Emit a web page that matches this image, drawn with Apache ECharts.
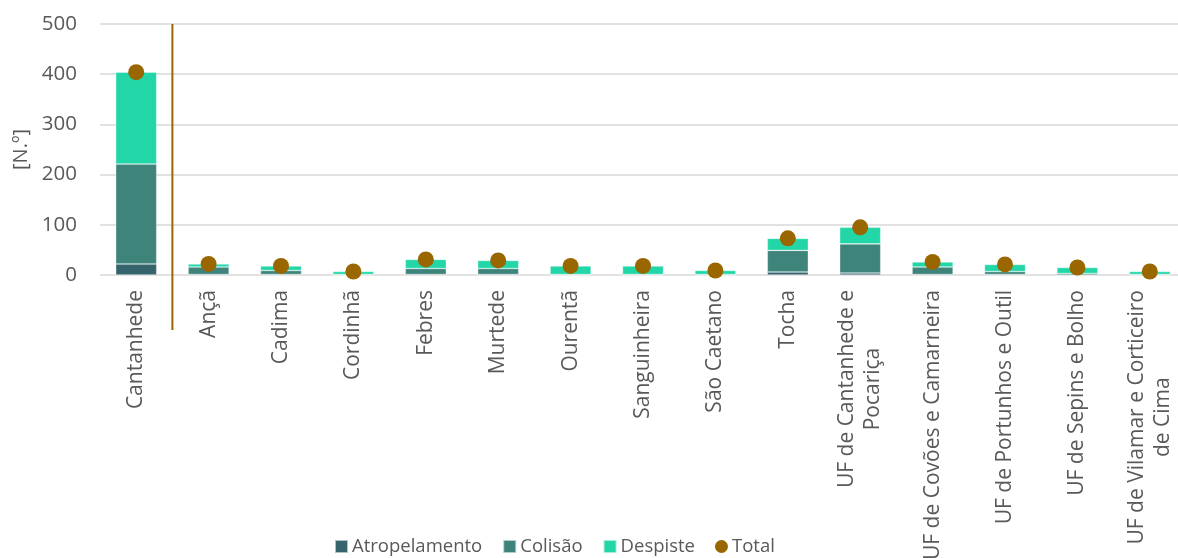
<!DOCTYPE html>
<html>
<head>
<meta charset="utf-8">
<script src="https://cdn.jsdelivr.net/npm/echarts@6/dist/echarts.min.js"></script>
<style>
html,body{margin:0;padding:0;background:#fff;overflow:hidden;}
#c{width:1178px;height:558px;}
</style>
</head>
<body>
<div id="c"></div>
<script>
const categories = ['Cantanhede','Ançã','Cadima','Cordinhã','Febres','Murtede','Ourentã','Sanguinheira','São Caetano','Tocha','UF de Cantanhede e\nPocariça','UF de Covões e Camarneira','UF de Portunhos e Outil','UF de Sepins e Bolho','UF de Vilamar e Corticeiro\nde Cima'];
const atropelamento = [22, 1, 1, 0, 1, 1, 0, 0, 0, 6, 4, 1, 1, 0, 0];
const colisao       = [199, 15, 8, 1, 12, 12, 1, 1, 1, 43, 58, 15, 6, 3, 1];
const despiste      = [183, 6, 9, 6, 18, 16, 17, 17, 8, 24, 33, 10, 14, 12, 6];
const total         = [404, 22, 18, 7, 31, 29, 18, 18, 9, 73, 95, 26, 21, 15, 7];
const yTicks = [0, 100, 200, 300, 400, 500];

const FONT = '"Open Sans", "DejaVu Sans", sans-serif';
const TXT = '#595959';
const chart = echarts.init(document.getElementById('c'));

const barCommon = {
  type: 'bar', stack: 'a', barWidth: 41,
  itemStyle: { borderColor: 'rgba(255,255,255,0.6)', borderWidth: 0.6 }
};

chart.setOption({
  animation: false,
  textStyle: { fontFamily: FONT },
  grid: { left: 100, width: 1086, top: 24, height: 251, containLabel: false, outerBoundsMode: 'none' },
  legend: {
    left: 329, top: 532,
    itemWidth: 13, itemHeight: 13, itemGap: 20,
    textStyle: { fontFamily: FONT, fontSize: 18.5, color: TXT, padding: [0, 0, 0, -1] },
    data: [
      { name: 'Atropelamento', icon: 'rect' },
      { name: 'Colisão', icon: 'rect' },
      { name: 'Despiste', icon: 'rect' },
      { name: 'Total', icon: 'circle' }
    ]
  },
  xAxis: {
    type: 'category', data: categories,
    axisLine: { show: false }, axisTick: { show: false },
    axisLabel: {
      rotate: 90, interval: 0, margin: 15,
      fontFamily: FONT, fontSize: 21, color: TXT, lineHeight: 26,
      formatter: function (v) { return v.split('\n').map(s => '{c|' + s + '}').join('\n'); },
      rich: { c: { align: 'center', fontFamily: FONT, fontSize: 21, color: TXT, lineHeight: 26 } }
    }
  },
  yAxis: {
    type: 'value', min: yTicks[0], max: yTicks[yTicks.length - 1], interval: 100,
    name: '[N.º]', nameLocation: 'middle', nameGap: 68, nameRotate: 90,
    nameTextStyle: { fontFamily: FONT, fontSize: 20, color: TXT },
    axisLine: { show: false }, axisTick: { show: false },
    axisLabel: { margin: 23, fontFamily: FONT, fontSize: 20.5, color: TXT },
    splitLine: { lineStyle: { color: '#d9d9d9', width: 1.6 } }
  },
  series: [
    Object.assign({}, barCommon, { name: 'Atropelamento', data: atropelamento, itemStyle: Object.assign({}, barCommon.itemStyle, { color: '#35646C' }) }),
    Object.assign({}, barCommon, { name: 'Colisão', data: colisao, itemStyle: Object.assign({}, barCommon.itemStyle, { color: '#3E847B' }) }),
    Object.assign({}, barCommon, { name: 'Despiste', data: despiste, itemStyle: Object.assign({}, barCommon.itemStyle, { color: '#23D6A7' }) }),
    { name: 'Total', type: 'scatter', data: total, symbolSize: 16, itemStyle: { color: '#996600', opacity: 1 }, z: 5 }
  ]
});

// separator between Cantanhede and the parishes
const p0 = chart.convertToPixel({ xAxisIndex: 0, yAxisIndex: 0 }, [0, yTicks[yTicks.length - 1]]);
const p1 = chart.convertToPixel({ xAxisIndex: 0, yAxisIndex: 0 }, [1, yTicks[0]]);
const sx = (p0[0] + p1[0]) / 2;
chart.setOption({
  graphic: [{
    type: 'line', z: 10,
    shape: { x1: sx, y1: p0[1], x2: sx, y2: p1[1] + 55 },
    style: { stroke: '#996600', lineWidth: 2 }
  }]
});
</script>
</body>
</html>
